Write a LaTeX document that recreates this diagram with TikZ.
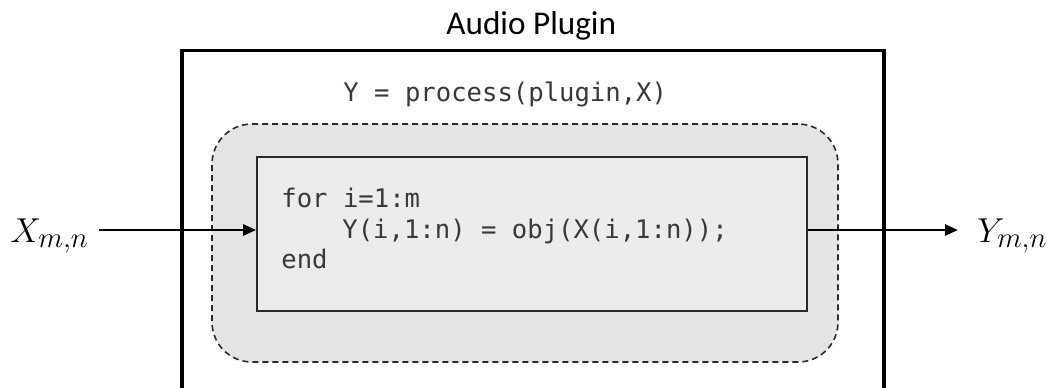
\documentclass[tikz,border=0pt]{standalone}
\usepackage{fontspec}
\usetikzlibrary{arrows.meta}
\newfontfamily\codefont{DejaVu Sans Mono}
\newfontfamily\titlefont{Carlito}
\definecolor{outerfill}{HTML}{E4E4E4}
\definecolor{innerfill}{HTML}{ECECEC}
\definecolor{edgegray}{HTML}{2A2A2A}
\tikzset{
  code/.style={font=\codefont\fontsize{12.8}{15}\selectfont, text=black!78, inner sep=0pt, anchor=base west},
  arr/.style={line width=1.25pt, -{Triangle[length=6.5pt,width=5.5pt]}},
  dashbox/.style={draw=edgegray, fill=outerfill, line width=0.8pt, dash pattern=on 3pt off 2pt, rounded corners=20pt, minimum width=313pt, minimum height=119pt, inner sep=0pt},
  innerbox/.style={draw=edgegray, fill=innerfill, line width=0.8pt, minimum width=275pt, minimum height=77pt, inner sep=0pt},
  sig/.style={font=\fontsize{19}{22}\selectfont, inner sep=0pt, anchor=base west},
}
\begin{document}
\begin{tikzpicture}[x=0.5pt,y=-0.5pt]
\useasboundingbox (0,0) rectangle (1047,387);
\clip (0,0) rectangle (1047,387);
% outer plugin box (bottom edge lies below the picture)
\draw[line width=1.75pt] (182,420) -- (182,50.5) -- (884,50.5) -- (884,420);
\node[font=\titlefont\fontsize{16.6}{19}\selectfont, inner sep=0pt, anchor=base west] (title) at (446,34) {Audio Plugin};
\node[code] (call) at (343,101) {Y = process(plugin,X)};
\node[dashbox] (proc) at (525,243) {};
\node[innerbox] (inner) at (532,234) {};
\node[code] (c1) at (281,207) {for i=1:m};
\node[code] (c2) at (342,238) {Y(i,1:n) = obj(X(i,1:n));};
\node[code] (c3) at (281,268) {end};
\coordinate (ain) at (99,230);
\coordinate (aout) at (958,230);
\draw[arr] (ain) -- (inner.west |- ain);
\draw[arr] (inner.east |- aout) -- (aout);
\node[sig] (xin) at (10,242) {$X_{m,n}$};
\node[sig] (yout) at (977,242) {$Y_{m,n}$};
\end{tikzpicture}
\end{document}
